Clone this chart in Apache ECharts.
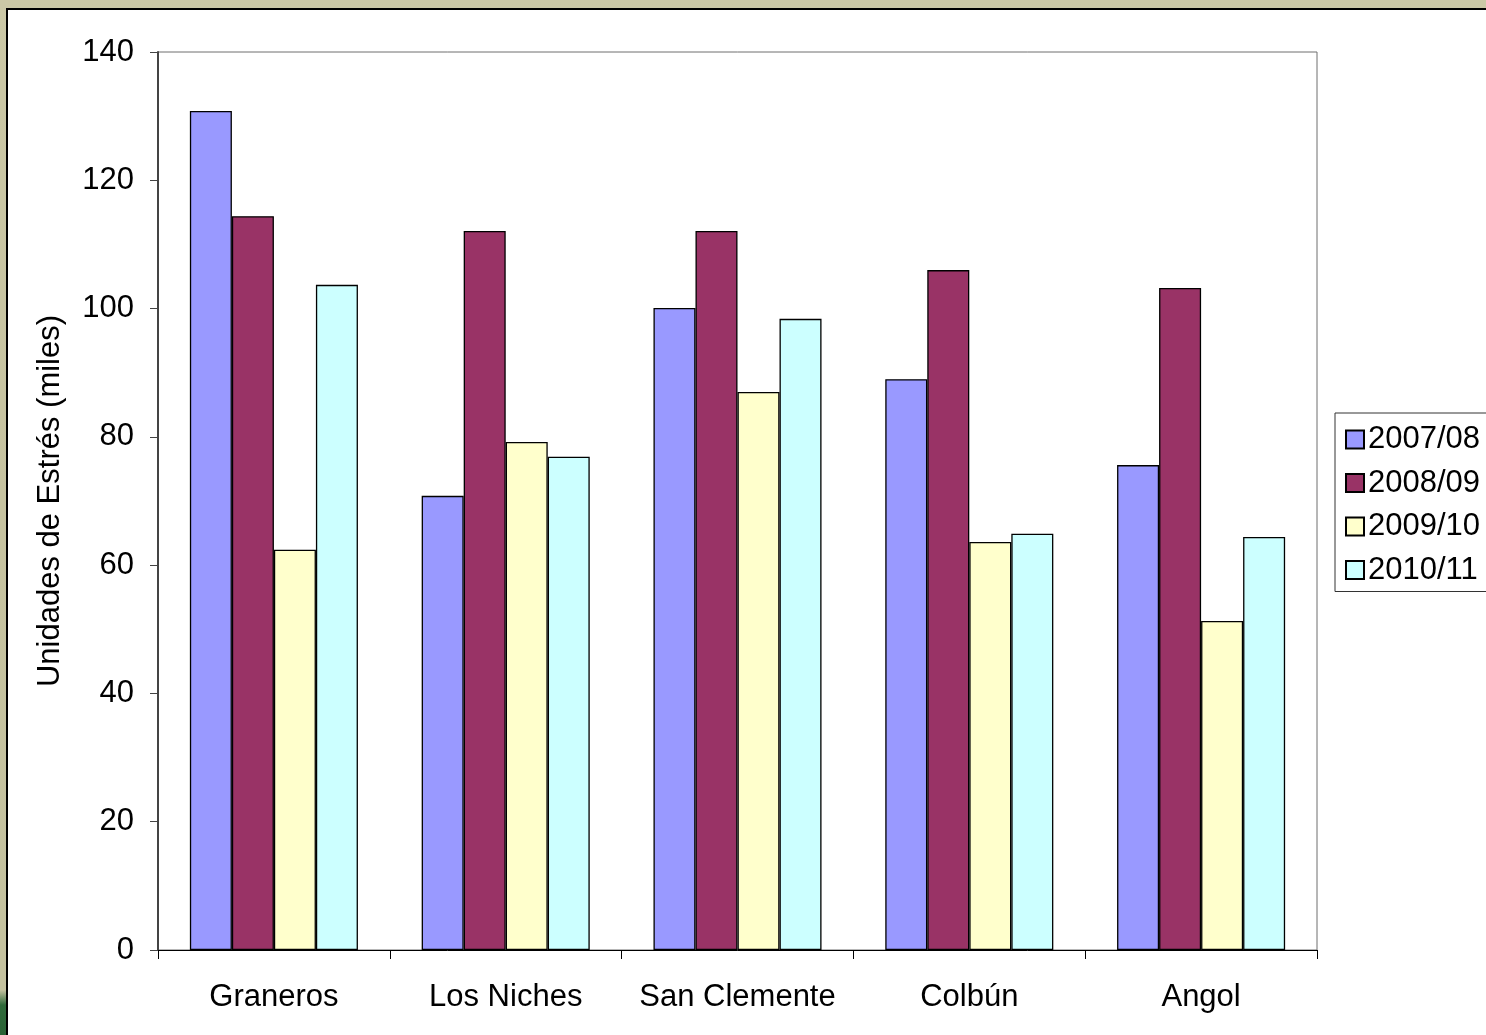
<!DOCTYPE html>
<html>
<head>
<meta charset="utf-8">
<title>Unidades de Estrés</title>
<script src="https://cdn.jsdelivr.net/npm/echarts@6/dist/echarts.min.js"></script>
<style>
  html, body { margin: 0; padding: 0; width: 1486px; height: 1035px; overflow: hidden; }
  body {
    background: linear-gradient(to bottom, #cbc8a6 0px, #c6c3a0 500px, #c4c29f 990px, #2f6a3a 1005px, #2a6235 1035px);
    position: relative;
  }
  #frame {
    position: absolute; left: 6px; top: 8px; right: 0; bottom: 0;
    background: #ffffff;
    border-left: 2px solid #000;
    border-top: 2px solid #000;
  }
  #chart { position: absolute; left: 0; top: 0; width: 1486px; height: 1035px; }
</style>
</head>
<body>
<div id="frame"></div>
<div id="chart"></div>
<script>
// Stress units (thousands) per site and season
const sites = ['Graneros', 'Los Niches', 'San Clemente', 'Colbún', 'Angol'];
const seasons = ['2007/08', '2008/09', '2009/10', '2010/11'];
const season0708 = [130.8, 70.8, 100.1, 89.0, 75.6];
const season0809 = [114.4, 112.1, 112.1, 106.0, 103.2];
const season0910 = [62.4, 79.2, 87.0, 63.6, 51.3];
const season1011 = [103.7, 76.9, 98.4, 64.9, 64.4];
const yTicks = { min: 0, max: 140, step: 20 };
const yTitle = 'Unidades de Estrés (miles)';

const colors = ['#9999ff', '#993366', '#ffffcc', '#ccffff'];
const values = [season0708, season0809, season0910, season1011];
const font = 'Liberation Sans, Arial, sans-serif';
const fs = 31;

const chart = echarts.init(document.getElementById('chart'), null, { renderer: 'canvas' });
chart.setOption({
  backgroundColor: 'transparent',
  animation: false,
  textStyle: { fontFamily: font },
  grid: {
    left: 158, top: 52, width: 1159, height: 898,
    show: true, borderColor: '#6e6e6e', borderWidth: 1, backgroundColor: 'transparent'
  },
  legend: {
    orient: 'vertical',
    left: 1335, top: 413,
    padding: [11, 30, 6, 10],
    itemWidth: 18, itemHeight: 18, itemGap: 12.5,
    icon: 'rect',
    borderColor: '#333', borderWidth: 1,
    backgroundColor: '#fff',
    textStyle: { fontSize: fs, color: '#000', fontFamily: font, padding: [0, 0, 0, -1] },
    data: seasons
  },
  xAxis: {
    type: 'category',
    data: sites,
    axisLine: { lineStyle: { color: '#000', width: 1 } },
    axisTick: { show: true, length: 9, interval: 0, alignWithLabel: false, lineStyle: { color: '#000' } },
    axisLabel: { interval: 0, fontSize: fs, color: '#000', margin: 32, fontFamily: font },
    splitLine: { show: false }
  },
  yAxis: {
    type: 'value',
    min: yTicks.min, max: yTicks.max, interval: yTicks.step,
    name: yTitle,
    nameLocation: 'middle',
    nameGap: 92,
    nameRotate: 90,
    nameTextStyle: { fontSize: fs, color: '#000', fontFamily: font },
    axisLine: { show: true, lineStyle: { color: '#444', width: 2 } },
    axisTick: { show: true, length: 8, lineStyle: { color: '#444' } },
    axisLabel: { fontSize: fs, color: '#000', margin: 24, fontFamily: font },
    splitLine: { show: false }
  },
  series: seasons.map((s, i) => ({
    name: s,
    type: 'bar',
    data: values[i],
    barGap: '0%',
    barCategoryGap: '27.5%',
    itemStyle: { color: colors[i], borderColor: '#000', borderWidth: 1.3 }
  }))
});
</script>
</body>
</html>
